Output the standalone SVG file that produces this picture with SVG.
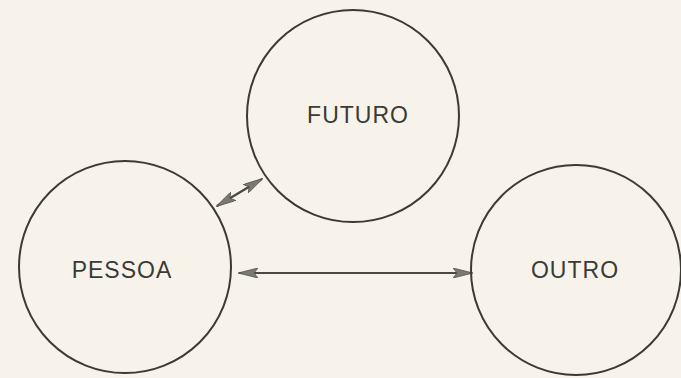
<svg xmlns="http://www.w3.org/2000/svg" width="681" height="378" viewBox="0 0 681 378">
<style>
.node{fill:none;stroke:#3b3a35;stroke-width:2}
.lbl{font-family:"Liberation Sans",Arial,sans-serif;font-size:23px;fill:#3b3a35;text-anchor:middle;letter-spacing:1px}
.con{stroke:#4a4943;stroke-width:2.2;fill:none;marker-start:url(#ah);marker-end:url(#ah)}
</style>
<defs>
<marker id="ah" viewBox="0 0 20 10" refX="19" refY="5" markerWidth="20" markerHeight="10" markerUnits="userSpaceOnUse" orient="auto-start-reverse">
<path d="M0,0 L20,5 L0,10 L4,5 Z" fill="#7b7a72" stroke="#55544d" stroke-width="0.8"/>
</marker>
</defs>
<rect width="681" height="378" fill="#f7f3ea"/>
<g id="connectors">
<line class="con" x1="239" y1="273" x2="472" y2="273"/>
<line class="con" x1="217" y1="206" x2="262" y2="179"/>
</g>
<g id="futuro">
<circle class="node" cx="353" cy="116" r="106"/>
<text class="lbl" x="358" y="123">FUTURO</text>
</g>
<g id="pessoa">
<circle class="node" cx="125" cy="267" r="106"/>
<text class="lbl" x="122" y="278">PESSOA</text>
</g>
<g id="outro">
<circle class="node" cx="576" cy="270" r="105"/>
<text class="lbl" x="575" y="278">OUTRO</text>
</g>
</svg>
